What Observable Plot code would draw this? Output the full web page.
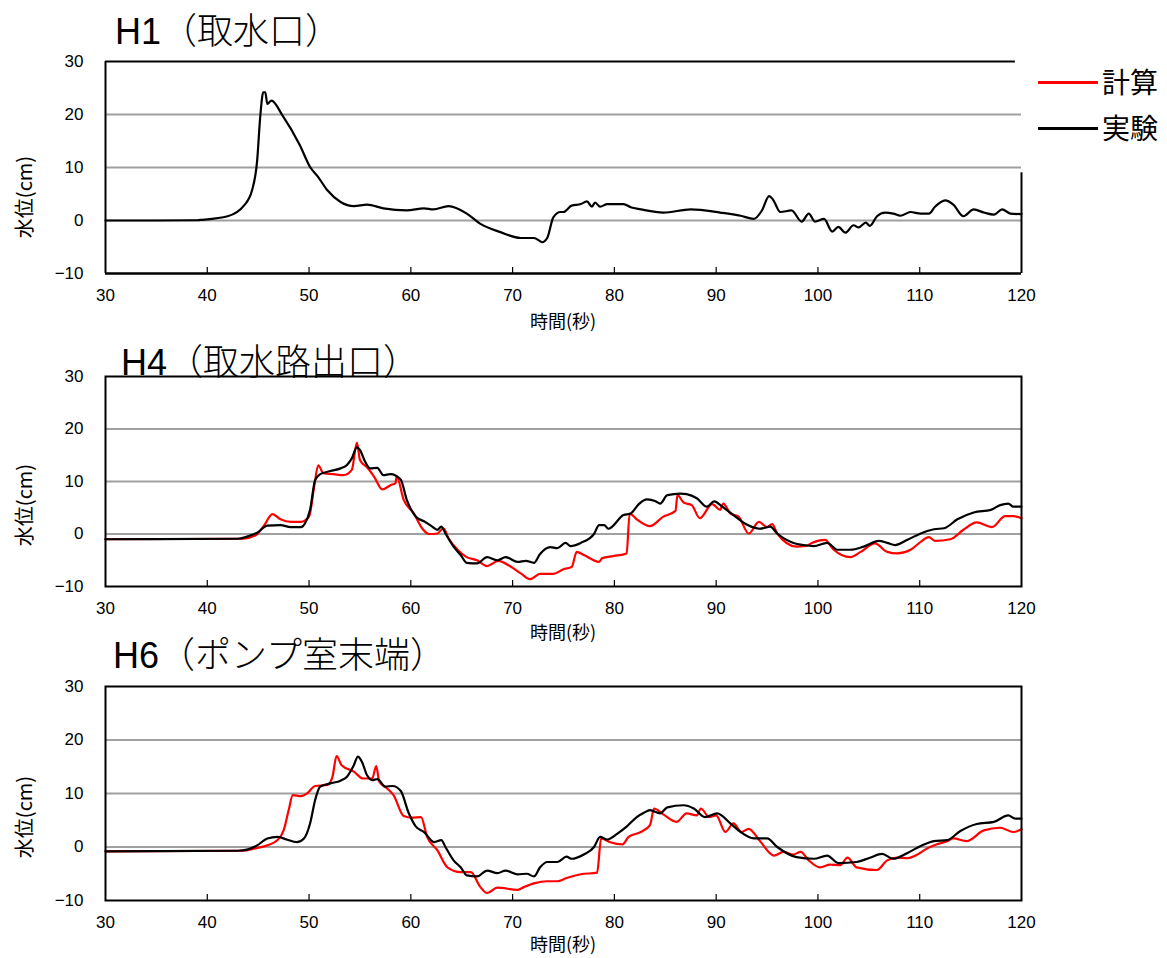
<!DOCTYPE html>
<html><head><meta charset="utf-8">
<script src="https://cdn.jsdelivr.net/npm/d3@7"></script>
<script src="https://cdn.jsdelivr.net/npm/@observablehq/plot@0.6"></script>
<style>
body{margin:0;background:#fff;}
#wrap{position:relative;width:1167px;height:958px;overflow:hidden;background:#fff;}
.panel{position:absolute;left:0;}
.title{position:absolute;white-space:nowrap;line-height:1;color:#000;}
.title .en{font-family:"Liberation Sans",Arial,sans-serif;}
.title .ja{font-family:"Noto Sans CJK JP",sans-serif;font-weight:300;}
.xlab,.ylab{position:absolute;white-space:nowrap;font-family:"Noto Sans CJK JP",sans-serif;line-height:1;color:#000;}
.xlab{transform:translate(-50%,-50%);font-size:18px;}
.ylab{transform:translate(-50%,-50%) rotate(-90deg);font-size:20px;}
.leg{position:absolute;font-family:"Noto Sans CJK JP",sans-serif;font-size:28px;line-height:1;color:#000;white-space:nowrap;}
.legline{position:absolute;height:3px;width:60px;}
</style>
</head><body><div id="wrap"></div>
<script>
// ---- data ----
const xTicks = [30, 40, 50, 60, 70, 80, 90, 100, 110, 120];
const yTicks = [-10, 0, 10, 20, 30];
const gridVals = [0, 10, 20];
const seriesNames = ["計算", "実験"];
const panelTitles = ["H1", "H4", "H6"];
const panelSubtitles = ["（取水口）", "（取水路出口）", "（ポンプ室末端）"];

const h1ExpT = [30,35,39,39.3,42,43.6,44.4,44.9,45.2,45.5,45.7,45.9,46.3,47.4,49.1,50.1,50.9,51.8,53.1,54.4,55.7,57.3,59.6,61.3,62.2,63.7,65.5,66.8,68.8,70.8,72.1,72.7,72.9,73.4,74.0,74.7,75.0,75.8,76.7,77.3,77.8,78.1,78.6,79.3,80.9,81.6,82.6,84.8,87.5,90.4,92.4,93.7,94.5,95.2,95.6,96.3,97.4,98.4,99.1,99.7,100.6,101.4,102.0,102.7,103.5,104.0,104.7,105.1,105.8,106.6,107.4,108.1,109.1,110.1,110.9,111.5,112.5,113.3,114.3,115.3,116.3,117.3,118.1,118.9,120];
const h1ExpV = [0,0,0.05,0.1,0.8,2.8,5.7,11.3,19.5,24.2,24.2,22,22.6,19.8,14.2,10.1,8.2,5.7,3.5,2.7,3.0,2.3,1.9,2.3,2.1,2.7,1.3,-0.6,-2.2,-3.3,-3.3,-3.9,-4.1,-3.3,0.6,1.6,1.6,2.8,3.1,3.6,2.6,3.4,2.6,3.1,3.1,2.5,2.1,1.5,2.1,1.5,0.9,0.3,1.9,4.6,3.9,1.6,1.9,-0.2,1.3,-0.2,0.3,-2.1,-1.2,-2.3,-0.9,-1.3,-0.4,-1.0,0.8,1.5,1.3,0.9,1.6,1.3,1.3,2.6,3.8,3.0,0.8,2.1,1.5,1.1,2.1,1.3,1.2];

const h4CalcT = [30,43.5,44.8,45.6,46.4,47.2,48.2,49.2,50.0,50.5,50.9,51.4,52.4,53.4,54.2,54.7,55.0,55.7,56.4,57.2,58.0,58.5,58.6,59.3,60.3,61.1,61.8,62.6,63.2,63.7,64.6,65.4,66.5,67.5,68.6,69.8,70.8,71.7,72.7,74.0,75.0,75.8,76.3,77.0,78.5,78.8,79.9,81.2,81.5,82.2,83.5,84.8,86.0,86.2,86.8,87.6,88.4,89.6,90.4,90.7,91.4,92.2,93.2,94.2,95.0,95.5,96.0,97.9,98.9,99.4,100.7,101.5,103.2,104.2,105.6,106.8,107.8,109.1,110.1,110.9,111.5,113.0,114.3,115.6,117.1,118.4,119.2,120];
const h4CalcV = [-1,-0.9,-0.2,1.7,3.8,2.8,2.3,2.3,3.3,9.0,13.1,11.6,11.4,11.2,12.2,17.4,14.1,12.7,10.9,8.5,9.3,9.7,11.0,6.5,3.9,1.1,0,0.1,1.1,-0.8,-3.0,-4.3,-5.0,-6.1,-5.1,-6.2,-7.5,-8.6,-7.6,-7.6,-6.7,-6.3,-3.4,-4.0,-5.3,-4.6,-4.2,-3.7,3.9,2.8,1.5,3.3,4.4,7.4,6.0,5.5,3.0,5.7,4.6,5.8,3.9,3.3,0.1,2.3,1.3,1.9,0.1,-2.4,-2.2,-1.7,-1.1,-2.9,-4.4,-3.4,-1.8,-3.4,-3.7,-3.0,-1.5,-0.6,-1.3,-1.0,0.8,2.2,1.3,3.4,3.4,3.0];

const h4ExpT = [30,43.0,43.9,44.9,45.9,47.2,48.2,49.2,49.6,50.1,50.6,51.1,52.1,53.1,53.7,54.2,54.7,55.0,55.5,56.0,56.7,57.3,58.0,59.0,59.6,60.5,61.4,62.1,62.6,63.0,63.4,64.2,64.9,65.5,66.5,67.5,68.5,69.3,70.5,71.3,72.1,72.7,73.7,74.4,75.2,75.7,76.7,78.0,78.5,79.0,79.4,80.9,81.6,82.4,83.2,84.0,84.5,85.2,86.5,87.1,88.1,89.1,89.8,90.6,91.7,93.0,94.3,95.3,96.0,97.6,98.6,99.6,100.9,101.9,103.2,104.5,106.0,106.8,107.6,108.8,110.1,111.4,112.4,113.7,115.3,117.0,117.9,118.7,119.2,120];
const h4ExpV = [-1,-0.9,-0.5,0.25,1.6,1.7,1.3,1.3,2.0,4.6,10.3,11.4,12.0,12.5,13.1,14.4,16.5,16.0,13.8,12.5,12.6,11.2,11.4,10.4,6.5,3.3,2.3,1.4,0.8,1.4,0.1,-2.4,-4.0,-5.5,-5.6,-4.4,-5.0,-4.4,-5.3,-5.1,-5.5,-3.8,-2.5,-2.7,-1.7,-2.3,-1.7,0,1.7,1.7,1.0,3.6,3.9,5.7,6.6,6.3,5.8,7.4,7.7,7.6,6.8,5.2,6.2,5.2,3.6,1.8,1.0,1.4,0.1,-1.7,-2.1,-2.3,-1.7,-3.0,-3.0,-2.4,-1.3,-1.7,-2.1,-1.1,0.1,0.9,1.1,2.8,4.1,4.6,5.5,5.8,5.2,5.2];

const h6CalcT = [30,43.5,44.6,45.9,46.9,47.5,48.0,48.4,49.2,49.8,50.6,51.8,52.3,52.7,53.2,54.4,55.3,56.2,56.6,56.9,57.7,58.3,59.3,60.1,61.0,61.6,62.6,63.6,64.9,65.9,66.8,67.5,68.5,70.5,71.1,72.1,73.4,74.4,75.3,76.7,78.3,78.7,79.6,80.8,81.4,82.6,83.5,83.9,84.8,86.1,87.1,88.1,88.5,89.3,90.0,90.9,91.7,92.5,93.2,94.3,95.7,96.6,97.6,98.3,99.1,100.2,101.2,102.2,102.9,103.8,105.8,106.8,107.8,108.8,109.6,110.7,111.7,112.7,113.3,114.6,116.3,117.9,119.2,120];
const h6CalcV = [-0.8,-0.7,-0.3,0.3,1.3,3.1,6.9,9.7,9.5,10.0,11.4,11.6,13.1,17.0,15.3,14.1,12.8,12.8,15.1,12.2,10.9,9.7,5.8,5.5,5.6,1.9,-0.6,-3.8,-4.7,-4.7,-7.4,-8.6,-7.6,-8.0,-7.5,-6.8,-6.4,-6.4,-5.8,-5.1,-4.8,1.6,0.9,0.5,1.9,2.8,4.1,7.2,6.1,4.7,6.3,5.9,7.2,5.6,5.9,2.8,4.4,2.8,3.4,1.1,-1.6,-0.9,-1.4,-0.9,-2.5,-3.8,-3.3,-3.4,-2.0,-3.8,-4.3,-2.5,-2.0,-2.1,-1.6,-0.3,0.5,1.1,1.6,1.1,3.1,3.6,2.8,3.3];

const h6ExpT = [30,43.0,43.9,44.9,45.9,46.9,47.8,48.8,49.5,50.1,50.6,51.1,52.1,53.1,53.7,54.4,54.8,55.2,55.7,56.2,56.7,57.5,58.2,59.0,59.8,60.5,61.3,62.3,63.0,63.4,64.2,64.9,65.5,66.5,67.5,68.5,69.3,70.5,71.4,72.1,72.7,73.4,74.4,75.3,75.8,77.0,78.0,78.6,79.3,80.3,81.2,82.2,82.9,83.5,84.5,85.2,86.8,87.8,88.9,90.1,91.4,92.4,93.7,95.0,96.0,97.9,99.6,100.9,102.0,103.8,105.1,106.3,107.4,108.8,110.1,111.4,112.7,114.0,115.6,117.3,118.7,119.4,120];
const h6ExpV = [-0.8,-0.7,-0.5,0.3,1.6,1.9,1.4,0.9,1.6,4.4,8.8,11.3,11.9,12.4,13.1,15.3,16.9,15.9,13.4,12.5,12.7,11.3,11.4,10.5,6.3,3.8,2.8,0.9,1.3,0,-2.5,-3.8,-5.3,-5.5,-4.4,-4.9,-4.4,-5.1,-5.0,-5.5,-3.8,-2.8,-2.8,-1.8,-2.2,-1.4,0,1.9,1.4,2.5,3.8,5.6,6.4,6.9,6.3,7.4,7.8,7.2,5.6,6.3,4.4,2.8,1.6,1.6,0,-1.9,-2.2,-1.6,-3.0,-2.8,-2.0,-1.3,-2.2,-1.1,0.2,1.1,1.3,3.0,4.3,4.7,5.9,5.3,5.3];

// ---- layout ----
const W = 1167, mL = 105, mR = 146, mT = 10, mB = 60;
const calcColor = "#ff0000", expColor = "#000000";
const toRows = (T, V) => T.map((t, i) => ({t, v: V[i]}));

const panels = [
  {frameTop: 61, plotH: 212, calc: null, exp: toRows(h1ExpT, h1ExpV), partial: true,
   title: {left: 115, top: 10, size: 36}, xlab: 320, ylab: 197},
  {frameTop: 376, plotH: 210, calc: toRows(h4CalcT, h4CalcV), exp: toRows(h4ExpT, h4ExpV), partial: false,
   title: {left: 121, top: 341, size: 36}, xlab: 631, ylab: 505},
  {frameTop: 686, plotH: 214, calc: toRows(h6CalcT, h6CalcV), exp: toRows(h6ExpT, h6ExpV), partial: false,
   title: {left: 113, top: 634, size: 36}, xlab: 943, ylab: 817}
];

const wrap = document.getElementById("wrap");

panels.forEach((p, i) => {
  const marks = [
    Plot.ruleY(gridVals, {stroke: "#a0a0a0", strokeWidth: 2}),
    Plot.ruleX(xTicks.slice(1, -1), {insetTop: p.plotH - 6, stroke: "#000", strokeWidth: 1.2}),
  ];
  if (p.calc) marks.push(Plot.line(p.calc, {x: "t", y: "v", stroke: calcColor, strokeWidth: 2.2, curve: "monotone-x"}));
  marks.push(Plot.line(p.exp, {x: "t", y: "v", stroke: expColor, strokeWidth: 2.2, curve: "monotone-x"}));
  if (p.partial) {
    marks.push(Plot.ruleX([30], {stroke: "#000", strokeWidth: 2}));
    marks.push(Plot.ruleY([-10], {stroke: "#000", strokeWidth: 2.5}));
    marks.push(Plot.ruleY([30], {x1: 30, x2: 119.4, stroke: "#000", strokeWidth: 2}));
    marks.push(Plot.ruleX([120], {y1: -10, y2: 9, stroke: "#000", strokeWidth: 2}));
  } else {
    marks.push(Plot.frame({stroke: "#000", strokeWidth: 2}));
  }
  marks.push(Plot.axisY(yTicks, {tickSize: 0, tickPadding: 22, label: null, fontSize: 17}));
  marks.push(Plot.axisX(xTicks, {tickSize: 0, tickPadding: 15, label: null, fontSize: 17}));

  const svg = Plot.plot({
    width: W, height: mT + p.plotH + mB,
    marginLeft: mL, marginRight: mR, marginTop: mT, marginBottom: mB,
    x: {domain: [30, 120]}, y: {domain: [-10, 30]},
    style: {fontFamily: "'Liberation Sans', Arial, sans-serif", fontSize: "17px", color: "#000", background: "transparent", overflow: "visible"},
    marks
  });
  svg.classList.add("panel");
  svg.style.top = (p.frameTop - mT) + "px";
  wrap.appendChild(svg);

  const t = document.createElement("div");
  t.className = "title";
  t.style.left = p.title.left + "px";
  t.style.top = p.title.top + "px";
  t.style.fontSize = p.title.size + "px";
  t.innerHTML = `<span class="en">${panelTitles[i]}</span><span class="ja">${panelSubtitles[i]}</span>`;
  wrap.appendChild(t);

  const xl = document.createElement("div");
  xl.className = "xlab"; xl.textContent = "時間(秒)";
  xl.style.left = "563px"; xl.style.top = p.xlab + "px";
  wrap.appendChild(xl);

  const yl = document.createElement("div");
  yl.className = "ylab"; yl.textContent = "水位(cm)";
  yl.style.left = "24px"; yl.style.top = p.ylab + "px";
  wrap.appendChild(yl);
});

// legend
[[calcColor, 82], [expColor, 128]].forEach(([c, y], i) => {
  const l = document.createElement("div");
  l.className = "legline"; l.style.background = c;
  l.style.left = "1038px"; l.style.top = (y - 1.5) + "px";
  wrap.appendChild(l);
  const tx = document.createElement("div");
  tx.className = "leg"; tx.textContent = seriesNames[i];
  tx.style.left = "1102px"; tx.style.top = (y - 15) + "px";
  wrap.appendChild(tx);
});
</script>
</body></html>
